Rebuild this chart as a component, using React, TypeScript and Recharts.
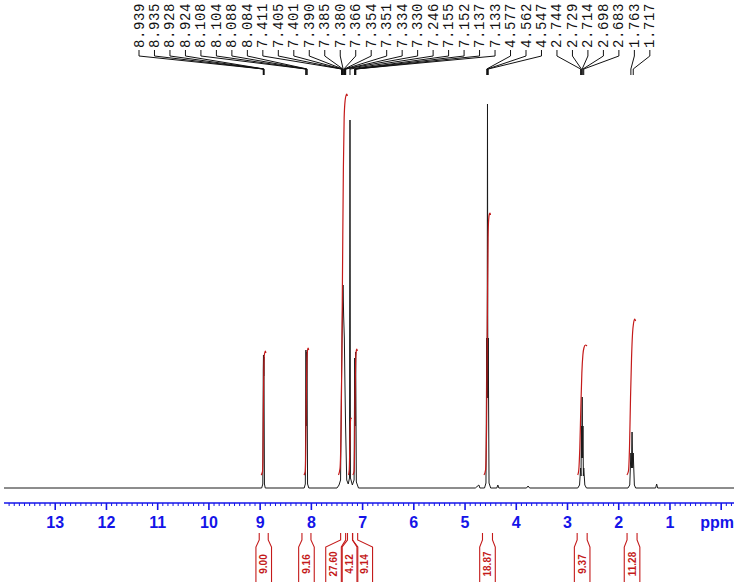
import React from 'react';
import { ComposedChart, Line, XAxis, YAxis, ReferenceLine } from 'recharts';

// peak picking labels, left to right
const PEAK_LABELS = [
  '8.939', '8.935', '8.928', '8.924', '8.108', '8.104', '8.088', '8.084',
  '7.411', '7.405', '7.401', '7.390', '7.385', '7.380', '7.366', '7.354',
  '7.351', '7.334', '7.330', '7.246', '7.155', '7.152', '7.137', '7.133',
  '4.577', '4.562', '4.547', '2.744', '2.729', '2.714', '2.698', '2.683',
  '1.763', '1.717',
];
const PEAK_VALUES = PEAK_LABELS.map(Number);

// spectrum trace: [ppm, intensity above baseline]
const SPECTRUM: [number, number][] = [
  [14.0, 0], [8.97, 0], [8.948, 4], [8.939, 118], [8.935, 133], [8.93, 112], [8.926, 131], [8.916, 4], [8.9, 0],
  [8.14, 0], [8.118, 4], [8.106, 138], [8.096, 62], [8.086, 136], [8.074, 4], [8.05, 0],
  [7.5, 0], [7.46, 3], [7.43, 8], [7.411, 110], [7.401, 150], [7.39, 185], [7.382, 203], [7.37, 172],
  [7.356, 150], [7.345, 105], [7.332, 62], [7.31, 8], [7.28, 4], [7.256, 10], [7.246, 368], [7.237, 10],
  [7.2, 3], [7.166, 8], [7.154, 130], [7.145, 62], [7.135, 136], [7.122, 6], [7.08, 0],
  [4.8, 0], [4.73, 3], [4.71, 0], [4.62, 0], [4.592, 5], [4.577, 150], [4.569, 90], [4.562, 384],
  [4.555, 90], [4.547, 150], [4.532, 5], [4.5, 0], [4.38, 0], [4.36, 3], [4.34, 0],
  [3.8, 0], [3.77, 2], [3.74, 0],
  [2.8, 0], [2.765, 3], [2.744, 20], [2.736, 12], [2.729, 62], [2.722, 30], [2.714, 91],
  [2.706, 30], [2.698, 62], [2.69, 12], [2.683, 20], [2.662, 3], [2.63, 0],
  [1.82, 0], [1.785, 3], [1.763, 35], [1.752, 20], [1.74, 56], [1.728, 20], [1.717, 35], [1.695, 3], [1.67, 0],
  [1.28, 0], [1.26, 4], [1.24, 0], [-0.25, 0],
];

// integrals
const INTEGRAL_LABELS = ['9.00', '9.16', '27.60', '4.12', '9.14', '18.87', '9.37', '11.28'];
const INTEGRAL_CENTERS = [8.93, 8.096, 7.38, 7.246, 7.145, 4.562, 2.714, 1.74];
const INTEGRAL_CURVES: [number, number][][] = [
  [[8.98, 13], [8.955, 16], [8.945, 30], [8.938, 70], [8.932, 105], [8.926, 125], [8.918, 133], [8.905, 136], [8.895, 137], [8.888, 135]],
  [[8.145, 13], [8.12, 16], [8.11, 35], [8.102, 75], [8.095, 105], [8.088, 125], [8.08, 135], [8.07, 139], [8.06, 140], [8.053, 138]],
  [[7.47, 13], [7.44, 20], [7.42, 60], [7.405, 130], [7.39, 230], [7.375, 320], [7.36, 370], [7.34, 388], [7.32, 393], [7.305, 394], [7.298, 392]],
  [[7.275, 13], [7.26, 18], [7.25, 40], [7.242, 60], [7.235, 68], [7.225, 70], [7.218, 69]],
  [[7.19, 13], [7.165, 17], [7.155, 45], [7.148, 85], [7.14, 115], [7.132, 132], [7.12, 138], [7.11, 139], [7.103, 137]],
  [[4.63, 13], [4.6, 18], [4.58, 60], [4.568, 140], [4.56, 200], [4.55, 250], [4.54, 268], [4.525, 274], [4.51, 275], [4.503, 273]],
  [[2.8, 13], [2.78, 18], [2.76, 40], [2.74, 80], [2.72, 115], [2.7, 133], [2.68, 140], [2.65, 143], [2.62, 142]],
  [[1.84, 13], [1.81, 17], [1.79, 40], [1.77, 90], [1.75, 130], [1.73, 155], [1.71, 165], [1.69, 169], [1.67, 167]],
];

// axis ticks (major labelled, minor every 0.1 ppm)
const MINOR_TICKS: number[] = [];
for (let i = -2; i <= 139; i++) MINOR_TICKS.push(i / 10);

const BLUE = '#1414e8';
const RED = '#c41a1a';
const AXIS_Y = 503;

// label layout
const LABEL_X0 = 139;
const LABEL_STEP = 15.48;
const BOX_SHIFT = [0, 0, -9.6, 0, 9.6, 0, 0, 0];
const NARROW = [4.5, 4.5, 2.5, 2.5, 2.5, 5, 5, 5];

const PpmTick = (props: any) => {
  const { x, payload } = props;
  const v = payload.value;
  const major = Math.abs(v - Math.round(v)) < 1e-6;
  return (
    <g>
      <line x1={x} x2={x} y1={AXIS_Y} y2={AXIS_Y + (major ? 7 : 3)} stroke={BLUE} strokeWidth={major ? 1.6 : 1} />
      {major && v >= 1 && (
        <text x={x} y={AXIS_Y + 25} textAnchor="middle" fill={BLUE} fontSize={16} fontWeight="bold" fontFamily="Liberation Sans, Arial, sans-serif">
          {v}
        </text>
      )}
      {major && v === 0 && (
        <text x={x - 4} y={AXIS_Y + 25} textAnchor="middle" fill={BLUE} fontSize={16} fontWeight="bold" fontFamily="Liberation Sans, Arial, sans-serif">
          ppm
        </text>
      )}
    </g>
  );
};

const PeakTick = (props: any) => {
  const { x, payload } = props;
  const i = PEAK_VALUES.indexOf(payload.value);
  const lx = LABEL_X0 + i * LABEL_STEP;
  return (
    <g>
      <text
        transform={`translate(${lx + 4.5},48) rotate(-90)`}
        fontFamily="Liberation Mono, Courier New, monospace"
        fontSize={14}
        letterSpacing={0.6}
        fill="#111"
      >
        {PEAK_LABELS[i]}
      </text>
      <polyline points={`${lx},50 ${lx},56 ${x},69 ${x},75`} fill="none" stroke="#111" strokeWidth={1} />
    </g>
  );
};

const IntegralTick = (props: any) => {
  const { x, payload } = props;
  const i = INTEGRAL_CENTERS.indexOf(payload.value);
  const bx = x + BOX_SHIFT[i];
  const n = NARROW[i];
  const w = 7.8;
  const d =
    `M${x - n},533 L${x - n},540 L${bx - w},547 L${bx - w},582 ` +
    `M${x + n},533 L${x + n},540 L${bx + w},547 L${bx + w},582`;
  return (
    <g>
      <path d={d} fill="none" stroke={RED} strokeWidth={1.1} />
      <text
        transform={`translate(${bx + 3.5},564) rotate(-90)`}
        textAnchor="middle"
        fill={RED}
        fontSize={10}
        fontWeight="bold"
        fontFamily="Liberation Sans, Arial, sans-serif"
      >
        {INTEGRAL_LABELS[i]}
      </text>
    </g>
  );
};

const App: React.FC = () => {
  const spectrum = SPECTRUM.map(([ppm, v]) => ({ ppm, v }));
  const integrals = INTEGRAL_CURVES.map((c) => c.map(([ppm, v]) => ({ ppm, v })));
  return (
    <div style={{ position: 'absolute', left: 0, top: 0, width: 740, height: 585, background: '#fff' }}>
      <ComposedChart width={740} height={585} margin={{ top: 0, right: 6, bottom: 0, left: 4 }}>
        <XAxis
          xAxisId="peaks"
          orientation="top"
          type="number"
          dataKey="ppm"
          domain={[-0.25, 14]}
          reversed
          allowDataOverflow
          height={80}
          ticks={PEAK_VALUES}
          interval={0}
          axisLine={false}
          tickLine={false}
          tick={<PeakTick />}
        />
        <XAxis
          xAxisId="main"
          type="number"
          dataKey="ppm"
          domain={[-0.25, 14]}
          reversed
          allowDataOverflow
          height={30}
          ticks={MINOR_TICKS}
          interval={0}
          axisLine={false}
          tickLine={false}
          tick={<PpmTick />}
        />
        <XAxis
          xAxisId="int"
          type="number"
          dataKey="ppm"
          domain={[-0.25, 14]}
          reversed
          allowDataOverflow
          height={52}
          ticks={INTEGRAL_CENTERS}
          interval={0}
          axisLine={false}
          tickLine={false}
          tick={<IntegralTick />}
        />
        <YAxis hide domain={[-15, 408]} allowDataOverflow />
        <ReferenceLine xAxisId="main" y={-15} stroke={BLUE} strokeWidth={1.6} />
        <Line
          xAxisId="main"
          data={spectrum}
          dataKey="v"
          type="linear"
          stroke="#1a1a1a"
          strokeWidth={1}
          dot={false}
          isAnimationActive={false}
        />
        {integrals.map((d, k) => (
          <Line
            key={k}
            xAxisId="main"
            data={d}
            dataKey="v"
            type="monotone"
            stroke={RED}
            strokeWidth={1.2}
            dot={false}
            isAnimationActive={false}
          />
        ))}
      </ComposedChart>
    </div>
  );
};

export default App;
